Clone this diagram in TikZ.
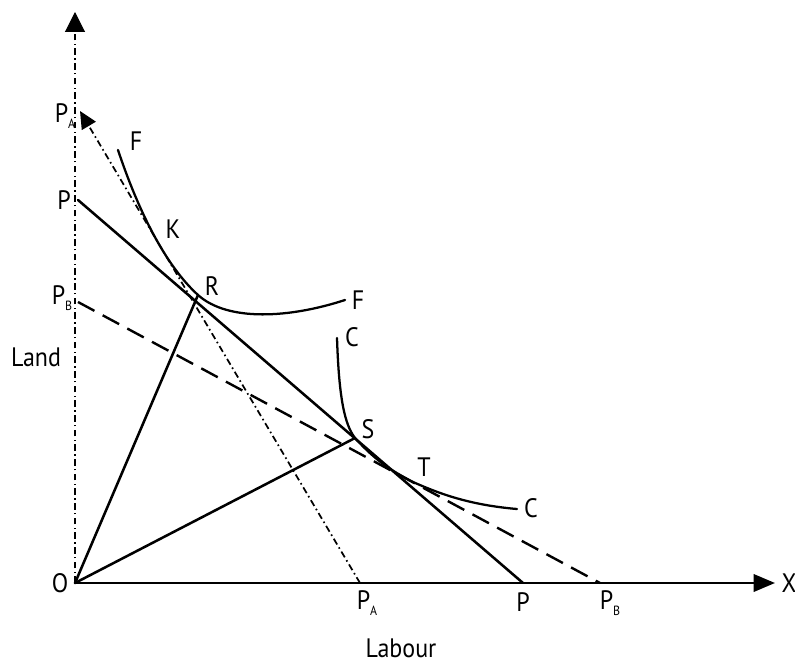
\documentclass[tikz,border=0pt]{standalone}
\usepackage{fontspec}
\setmainfont[FakeStretch=0.9]{PT Sans}
\usetikzlibrary{arrows.meta}
\newcommand\lsub[1]{\raisebox{-0.45ex}{\fontsize{10}{10}\selectfont #1}}
\begin{document}
\begin{tikzpicture}[x=0.75pt,y=-0.75pt,
  lbl/.style={inner sep=0pt,font=\fontsize{20}{23}\selectfont},
  mainline/.style={line width=1.9pt,line cap=round},
  axisline/.style={line width=1.9pt},
  pbline/.style={line width=1.8pt,dash pattern=on 14pt off 7pt},
  paline/.style={line width=1.3pt,dash pattern=on 5pt off 2.5pt on 1.2pt off 2.5pt},
  yaxis/.style={line width=0.8pt,dash pattern=on 5pt off 2.5pt on 1pt off 2.5pt},
  curve/.style={line width=1.7pt,line cap=round}]
\useasboundingbox (0,0) rectangle (795,663);
% key points
\coordinate (O) at (75,583);
\coordinate (Ytop) at (75,12);
\coordinate (Xend) at (775,583);
\coordinate (PAtop) at (80,111);
\coordinate (PAbot) at (360,583);
\coordinate (Ptop) at (78,200);
\coordinate (Pbot) at (523,583);
\coordinate (PBtop) at (78,302);
\coordinate (PBbot) at (600,583);
\coordinate (R) at (198,295);
\coordinate (S) at (355,438);
\coordinate (T) at (413,482);
\coordinate (F1) at (118,150);
\coordinate (F2) at (345,300);
\coordinate (C1) at (337,338);
\coordinate (C2) at (517,509);
% axes
\draw[yaxis,-{Triangle[length=15pt,width=15pt]}] (O) -- (Ytop);
\draw[axisline,-{Triangle[length=16pt,width=13pt]}] (O) -- (Xend);
% price lines
\draw[paline,-{Triangle[length=13pt,width=12pt]}] (PAbot) -- (PAtop);
\draw[mainline] (Ptop) -- (Pbot);
\draw[pbline] (PBtop) -- (PBbot);
% isoquants
\draw[curve] (F1) .. controls (138,210) and (165,265) .. (R)
  .. controls (228,322) and (290,318) .. (F2);
\draw[curve] (C1) .. controls (339,400) and (345,425) .. (S)
  .. controls (375,460) and (390,470) .. (T)
  .. controls (440,494) and (470,505) .. (C2);
% rays
\draw[mainline] (O) -- (R);
\draw[mainline] (O) -- (S);
% labels
\node[lbl] (lO) at (60,583) {O};
\node[lbl] (lX) at (789,583) {X};
\node[lbl] (lPAb) at (367,603) {P\lsub{A}};
\node[lbl] (lPb) at (523,602) {P};
\node[lbl] (lPBb) at (610,603) {P\lsub{B}};
\node[lbl] (lLabour) at (401,648) {Labour};
\node[lbl] (lLand) at (36,357) {Land};
\node[lbl] (lPAt) at (65,116) {P\lsub{A}};
\node[lbl] (lPt) at (64,200) {P};
\node[lbl] (lPBt) at (62,298) {P\lsub{B}};
\node[lbl] (lF1) at (136,141) {F};
\node[lbl] (lK) at (173,229) {K};
\node[lbl] (lR) at (212,286) {R};
\node[lbl] (lF2) at (358,300) {F};
\node[lbl] (lC1) at (352,337) {C};
\node[lbl] (lS) at (368,429) {S};
\node[lbl] (lT) at (424,467) {T};
\node[lbl] (lC2) at (531,508) {C};
\end{tikzpicture}
\end{document}
